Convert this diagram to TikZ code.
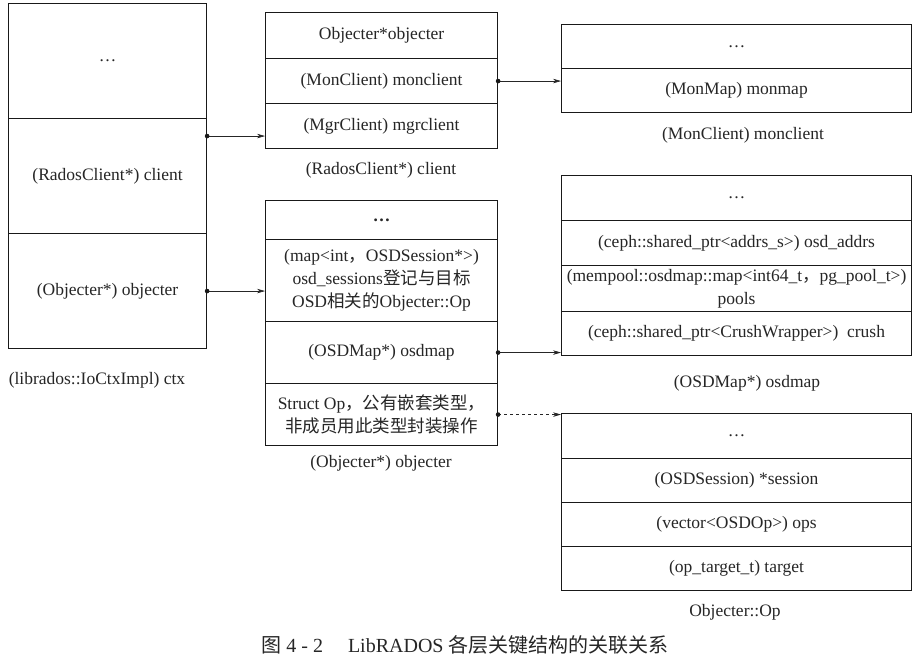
\documentclass[tikz,border=0pt]{standalone}
\usepackage{fontspec}
\setmainfont{Liberation Serif}
\newfontfamily\cjk{Noto Sans CJK SC}
\usetikzlibrary{arrows.meta}
\begin{document}
\begin{tikzpicture}[x=1pt,y=-1pt,
 row/.style={draw=black!90, line width=1.1pt, rectangle, anchor=north west, inner sep=0pt, align=center, font=\fontsize{17.5}{23}\selectfont, text=black!85},
 lbl/.style={inner sep=0pt, font=\fontsize{17.5}{21}\selectfont, text=black!85},
 conn/.style={-{Stealth[length=8pt,width=4.5pt]}, line width=0.6pt, draw=black!85},
 dotr/.style={fill=black!90},
]
\useasboundingbox[fill=white] (0,0) rectangle (919,664);
% Box A: ctx
\node[row, minimum width=198pt, minimum height=115pt] (a1) at (8,3) {\dots};
\node[row, minimum width=198pt, minimum height=115pt] (a2) at (8,118) {(RadosClient*) client};
\node[row, minimum width=198pt, minimum height=115pt] (a3) at (8,233) {(Objecter*) objecter};
\node[lbl] (actx) at (97,380) {(librados::IoCtxImpl) ctx};
% Box B: client
\node[row, minimum width=232pt, minimum height=46pt] (b1) at (265,12) {Objecter*objecter};
\node[row, minimum width=232pt, minimum height=45pt] (b2) at (265,58) {(MonClient) monclient};
\node[row, minimum width=232pt, minimum height=45pt] (b3) at (265,103) {(MgrClient) mgrclient};
\node[lbl] (bl) at (381,170) {(RadosClient*) client};
% Box C: monclient
\node[row, minimum width=350pt, minimum height=44pt] (c1) at (561,24) {\dots};
\node[row, minimum width=350pt, minimum height=44pt] (c2) at (561,68) {(MonMap) monmap};
\node[lbl] (cl) at (743,135) {(MonClient) monclient};
% Box D: objecter
\node[row, minimum width=232pt, minimum height=39pt] (d1) at (265,200) {\textbf{\dots}};
\node[row, minimum width=232pt, minimum height=82pt] (d2) at (265,239) {(map<int{\cjk ，}OSDSession*>)\\osd\_sessions{\cjk 登记与目标}\\OSD{\cjk 相关的}Objecter::Op};
\node[row, minimum width=232pt, minimum height=62pt] (d3) at (265,321) {(OSDMap*) osdmap};
\node[row, minimum width=232pt, minimum height=62pt] (d4) at (265,383) {Struct Op{\cjk ，公有嵌套类型，}\\{\cjk 非成员用此类型封装操作}};
\node[lbl] (dl) at (381,463) {(Objecter*) objecter};
% Box E: osdmap
\node[row, minimum width=350pt, minimum height=45pt] (e1) at (561,175) {\dots};
\node[row, minimum width=350pt, minimum height=45pt] (e2) at (561,220) {(ceph::shared\_ptr<addrs\_s>) osd\_addrs};
\node[row, minimum width=350pt, minimum height=46pt, font=\fontsize{17.5}{23}\selectfont] (e3) at (561,265) {(mempool::osdmap::map<int64\_t{\cjk ，}pg\_pool\_t>)\\pools};
\node[row, minimum width=350pt, minimum height=44pt] (e4) at (561,311) {(ceph::shared\_ptr<CrushWrapper>)\ \ crush};
\node[lbl] (el) at (747,383) {(OSDMap*) osdmap};
% Box F: Objecter::Op
\node[row, minimum width=350pt, minimum height=45pt] (f1) at (561,413) {\dots};
\node[row, minimum width=350pt, minimum height=44pt] (f2) at (561,458) {(OSDSession) *session};
\node[row, minimum width=350pt, minimum height=44pt] (f3) at (561,502) {(vector<OSDOp>) ops};
\node[row, minimum width=350pt, minimum height=44pt] (f4) at (561,546) {(op\_target\_t) target};
\node[lbl] (fl) at (735,612) {Objecter::Op};
% caption
\node[inner sep=0pt, font=\fontsize{20}{23}\selectfont, text=black!85] (cap) at (465,645) {{\cjk 图} 4 - 2\quad\ LibRADOS {\cjk 各层关键结构的关联关系}};
% connectors
\coordinate (bin) at ([yshift=-10pt]b3.west);
\draw[conn] (a2.east |- bin) -- (bin);
\fill[dotr] (a2.east |- bin) circle (2.3pt);
\draw[conn] (a3.east) -- (a3.east -| d2.west);
\fill[dotr] (a3.east) circle (2.3pt);
\draw[conn] (b2.east) -- (b2.east -| c2.west);
\fill[dotr] (b2.east) circle (2.3pt);
\draw[conn] (d3.east) -- (d3.east -| e4.west);
\fill[dotr] (d3.east) circle (2.3pt);
\draw[conn, dashed] (d4.east) -- (d4.east -| f1.west);
\fill[dotr] (d4.east) circle (2.3pt);
\end{tikzpicture}
\end{document}
